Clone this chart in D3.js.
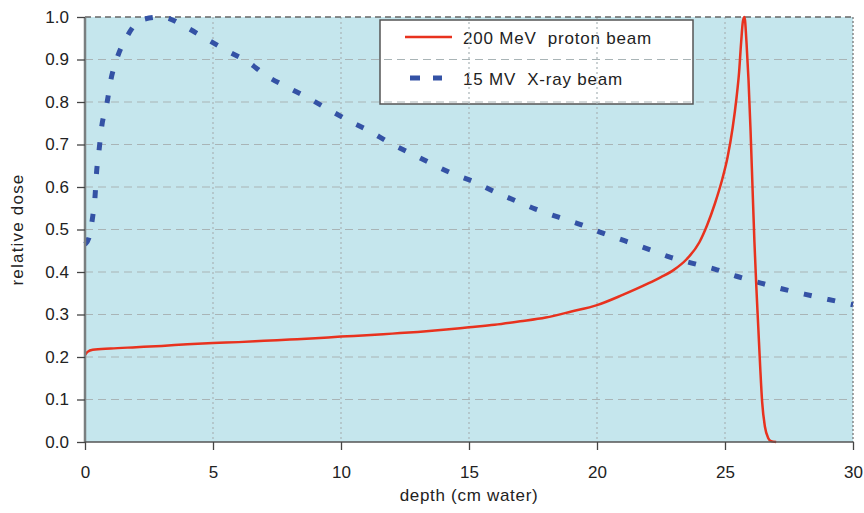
<!DOCTYPE html>
<html>
<head>
<meta charset="utf-8">
<script src="https://cdn.jsdelivr.net/npm/d3@7"></script>
<style>
  body { margin: 0; background: #fff; }
  svg { display: block; font-family: "Liberation Sans", Arial, sans-serif; }
</style>
</head>
<body>
<svg id="chart"></svg>
<script>
// depth dose curves
const protonDepth = [0, 0.1, 0.3, 1, 2, 3, 4, 5, 6, 7, 8, 9, 10, 11, 12, 13, 14, 15, 16, 17, 18, 19, 20, 21, 22, 22.5, 23, 23.5, 24, 24.3, 24.6, 24.9, 25.1, 25.3, 25.45, 25.55, 25.63, 25.7, 25.76, 25.84, 25.92, 26.0, 26.08, 26.15, 26.22, 26.3, 26.38, 26.45, 26.56, 26.69, 26.8, 27.0];
const protonDose = [0.205, 0.212, 0.217, 0.22, 0.223, 0.226, 0.23, 0.233, 0.235, 0.238, 0.241, 0.244, 0.248, 0.251, 0.255, 0.259, 0.264, 0.27, 0.276, 0.284, 0.293, 0.307, 0.322, 0.346, 0.373, 0.388, 0.405, 0.43, 0.47, 0.51, 0.56, 0.62, 0.67, 0.74, 0.81, 0.87, 0.94, 0.99, 1.0, 0.94, 0.85, 0.73, 0.59, 0.47, 0.37, 0.27, 0.17, 0.095, 0.036, 0.009, 0.002, 0];

const xrayDepth = [0, 0.15, 0.3, 0.39, 0.45, 0.55, 0.65, 0.86, 1.0, 1.24, 1.63, 2.19, 3.0, 3.95, 4.75, 5.57, 6.37, 7.1, 7.87, 8.7, 9.5, 10.3, 11.1, 11.9, 12.7, 13.5, 14.3, 15.2, 16.0, 16.8, 17.6, 18.5, 19.4, 20.2, 21.1, 22.0, 22.85, 23.7, 24.6, 25.45, 26.4, 27.25, 28.1, 29, 30];
const xrayDose = [0.465, 0.48, 0.53, 0.576, 0.633, 0.687, 0.741, 0.798, 0.849, 0.901, 0.953, 0.993, 1.0, 0.976, 0.948, 0.92, 0.894, 0.861, 0.836, 0.81, 0.783, 0.756, 0.732, 0.704, 0.68, 0.656, 0.633, 0.612, 0.589, 0.568, 0.548, 0.529, 0.511, 0.492, 0.473, 0.454, 0.435, 0.421, 0.407, 0.39, 0.374, 0.36, 0.348, 0.336, 0.323];

const xTicks = [0, 5, 10, 15, 20, 25, 30];
const yTicks = [0, 0.1, 0.2, 0.3, 0.4, 0.5, 0.6, 0.7, 0.8, 0.9, 1.0];
const legendLabels = ["200 MeV  proton beam", "15 MV  X-ray beam"];

const svgWidth = 864, svgHeight = 513;
const margin = { top: 17, right: 11, bottom: 71, left: 85 };
const width = svgWidth - margin.left - margin.right;
const height = svgHeight - margin.top - margin.bottom;

const svg = d3.select("#chart").attr("width", svgWidth).attr("height", svgHeight);
const g = svg.append("g").attr("transform", `translate(${margin.left},${margin.top})`);

const x = d3.scaleLinear().domain([0, 30]).range([0, width]);
const y = d3.scaleLinear().domain([0, 1]).range([height, 0]);

// plot background
g.append("rect")
  .attr("width", width)
  .attr("height", height)
  .attr("fill", "#c5e6ed");

// legend box sits under the grid
const legend = g.append("g").attr("transform", "translate(295,3)");
legend.append("rect")
  .attr("width", 313)
  .attr("height", 84)
  .attr("fill", "#fff")
  .attr("stroke", "#555")
  .attr("stroke-width", 1.5);

// horizontal grid, dashed
g.append("g")
  .selectAll("line")
  .data(yTicks.slice(1, -1))
  .join("line")
  .attr("x1", 0).attr("x2", width)
  .attr("y1", (d) => y(d)).attr("y2", (d) => y(d))
  .attr("stroke", "#a9b4b6")
  .attr("stroke-width", 1.2)
  .attr("stroke-dasharray", "8,5");

// vertical grid, dotted
g.append("g")
  .selectAll("line")
  .data(xTicks.slice(1, -1))
  .join("line")
  .attr("x1", (d) => x(d)).attr("x2", (d) => x(d))
  .attr("y1", 0).attr("y2", height)
  .attr("stroke", "#a9b4b6")
  .attr("stroke-width", 1.2)
  .attr("stroke-dasharray", "2,3");

// top and right border
g.append("line")
  .attr("x1", 0).attr("x2", width).attr("y1", 0).attr("y2", 0)
  .attr("stroke", "#666").attr("stroke-width", 1.3)
  .attr("stroke-dasharray", "6,4");
g.append("line")
  .attr("x1", width).attr("x2", width).attr("y1", 0).attr("y2", height)
  .attr("stroke", "#777").attr("stroke-width", 1.3)
  .attr("stroke-dasharray", "2,2");

const line = d3.line()
  .x((d) => x(d[0]))
  .y((d) => y(d[1]))
  .curve(d3.curveMonotoneX);

g.append("path")
  .datum(xrayDepth.map((d, i) => [d, xrayDose[i]]))
  .attr("fill", "none")
  .attr("stroke", "#3452a5")
  .attr("stroke-width", 5)
  .attr("stroke-dasharray", "8,16")
  .attr("d", line);

g.append("path")
  .datum(protonDepth.map((d, i) => [d, protonDose[i]]))
  .attr("fill", "none")
  .attr("stroke", "#e8321e")
  .attr("stroke-width", 2.5)
  .attr("d", line);

// axes
const yAxis = g.append("g")
  .call(d3.axisLeft(y).tickValues(yTicks).tickFormat(d3.format(".1f")).tickSize(8).tickPadding(8));
const xAxis = g.append("g")
  .attr("transform", `translate(0,${height})`)
  .call(d3.axisBottom(x).tickValues(xTicks).tickSize(8).tickPadding(16));

yAxis.select(".domain").attr("stroke", "#7a7f80").attr("stroke-width", 2.5).attr("d", `M0,0V${height}`);
xAxis.select(".domain").attr("stroke", "#555").attr("stroke-width", 1.5).attr("d", `M0,0H${width}`);
[yAxis, xAxis].forEach((a) => {
  a.selectAll(".tick line").attr("stroke", "#444").attr("stroke-width", 1.3);
  a.selectAll(".tick text").attr("fill", "#222").style("font-size", "17px");
});

// axis titles
svg.append("text")
  .attr("x", margin.left + width / 2)
  .attr("y", 501)
  .attr("text-anchor", "middle")
  .attr("fill", "#222")
  .style("font-size", "17px")
  .style("letter-spacing", "0.7px")
  .text("depth (cm water)");

svg.append("text")
  .attr("transform", `translate(23,${margin.top + height / 2}) rotate(-90)`)
  .attr("text-anchor", "middle")
  .attr("fill", "#222")
  .style("font-size", "17px")
  .style("letter-spacing", "1.2px")
  .text("relative dose");

// legend entries
legend.append("line")
  .attr("x1", 25).attr("x2", 72).attr("y1", 17).attr("y2", 17)
  .attr("stroke", "#e8321e").attr("stroke-width", 2.5);
legend.append("line")
  .attr("x1", 30).attr("x2", 62).attr("y1", 58).attr("y2", 58)
  .attr("stroke", "#3452a5").attr("stroke-width", 5)
  .attr("stroke-dasharray", "10,13");

legend.selectAll(".legend-label")
  .data(legendLabels)
  .join("text")
  .attr("class", "legend-label")
  .attr("x", 83)
  .attr("y", (d, i) => 24 + i * 41)
  .attr("fill", "#222")
  .style("font-size", "17px")
  .style("letter-spacing", "0.8px")
  .style("white-space", "pre")
  .text((d) => d);
</script>
</body>
</html>
